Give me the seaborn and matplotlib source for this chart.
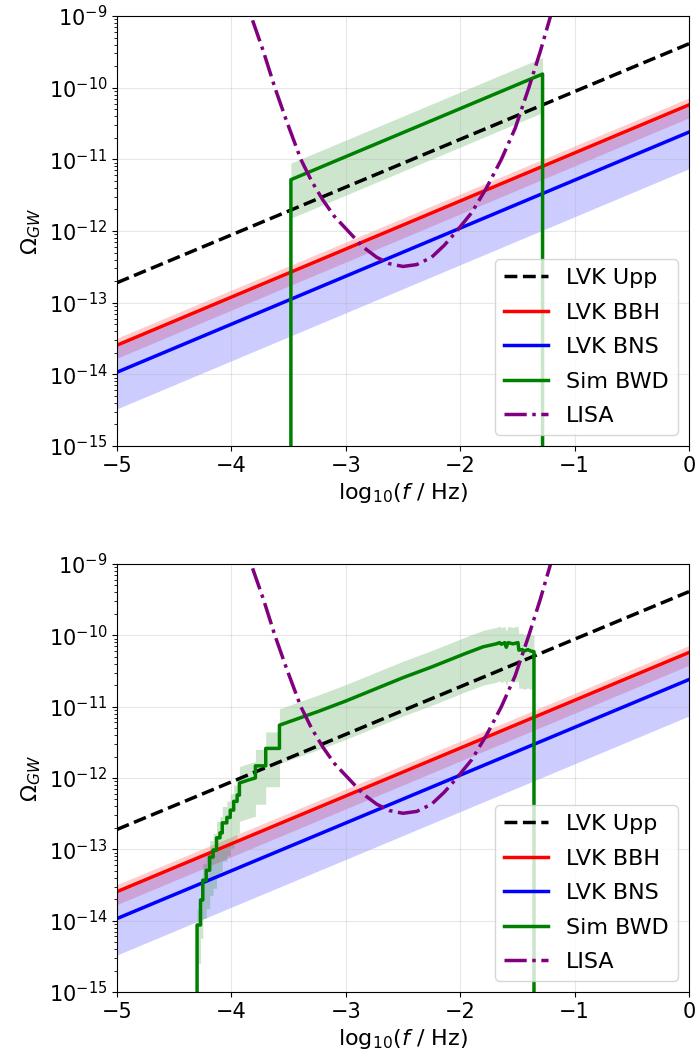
import numpy as np
import matplotlib
matplotlib.use("Agg")
import matplotlib.pyplot as plt
import seaborn as sns

# ---- LVK power-law backgrounds (Omega_GW at log10 f = -5 and 0) ----
log_f_ends = [-5.0, 0.0]
lvk_upp = [1.9e-13, 4.1e-10]
lvk_bbh = [2.55e-14, 5.75e-11]
lvk_bbh_hi = [3.2e-14, 7.2e-11]
lvk_bbh_lo = [1.68e-14, 3.8e-11]
lvk_bns = [1.07e-14, 2.4e-11]
lvk_bns_hi = [2.45e-14, 5.5e-11]
lvk_bns_lo = [3.3e-15, 7.4e-12]

# ---- LISA sensitivity curve ----
lisa_logf = [-3.815, -3.72, -3.62, -3.52, -3.393, -3.30, -3.20, -3.10, -2.98,
             -2.85, -2.73, -2.62, -2.50, -2.38, -2.25, -2.14, -2.03, -1.90,
             -1.77, -1.64, -1.52, -1.40, -1.30, -1.21, -1.15]
lisa_omega = [8.7e-10, 3.2e-10, 1.0e-10, 3.5e-11, 1.0e-11, 5.0e-12, 2.7e-12,
              1.6e-12, 1.0e-12, 6.0e-13, 4.3e-13, 3.5e-13, 3.2e-13, 3.4e-13,
              4.3e-13, 6.3e-13, 1.0e-12, 1.8e-12, 4.0e-12, 1.0e-11, 2.7e-11,
              1.0e-10, 3.2e-10, 1.0e-9, 2.0e-9]

# ---- simulated BWD background, upper panel ----
bwd_top_logf = [-3.48, -3.48, -1.28, -1.28]
bwd_top = [0.0, 5.2e-12, 1.55e-10, 0.0]

# ---- simulated BWD background, lower panel ----
bwd_bot_logf = [-4.30, -4.30, -4.27, -4.27, -4.25, -4.25, -4.22, -4.22, -4.19,
                -4.19, -4.16, -4.16, -4.13, -4.13, -4.10, -4.10, -4.08, -4.08,
                -4.04, -4.04, -4.01, -4.01, -3.98, -3.98, -3.95, -3.95, -3.93,
                -3.93, -3.84, -3.79, -3.79, -3.70, -3.70, -3.58, -3.58, -3.23,
                -3.00, -2.75, -2.50, -2.25, -1.95, -1.80, -1.684, -1.655, -1.64,
                -1.611, -1.597, -1.582, -1.54, -1.495, -1.487, -1.457, -1.445,
                -1.408, -1.38, -1.355, -1.355]
bwd_bot = [0.0, 8.7e-15, 8.7e-15, 1.95e-14, 1.95e-14, 3.7e-14, 3.7e-14, 5.1e-14,
           5.1e-14, 7.8e-14, 7.8e-14, 9.8e-14, 9.8e-14, 1.45e-13, 1.45e-13,
           1.7e-13, 1.7e-13, 2.35e-13, 2.35e-13, 2.8e-13, 2.8e-13, 3.55e-13,
           3.55e-13, 4.7e-13, 4.7e-13, 5.75e-13, 5.75e-13, 8.5e-13, 9.5e-13,
           1.0e-12, 1.48e-12, 1.48e-12, 2.6e-12, 2.6e-12, 5.5e-12, 8.7e-12,
           1.2e-11, 1.75e-11, 2.55e-11, 3.6e-11, 5.6e-11, 6.9e-11, 7.6e-11,
           7.9e-11, 7.5e-11, 7.9e-11, 6.8e-11, 7.9e-11, 7.6e-11, 7.9e-11,
           6.2e-11, 6.3e-11, 6.0e-11, 6.3e-11, 6.0e-11, 5.9e-11, 0.0]

# fractional uncertainty of the BWD background
bwd_frac_lo = 0.29
bwd_frac_hi = 1.7

plt.rcParams["font.family"] = ["DejaVu Sans"]
plt.rcParams["mathtext.fontset"] = "dejavusans"

W, H = 697, 1059
fig = plt.figure(figsize=(W / 100, H / 100), dpi=100)


def box(left, top, right, bottom):
    return [left / W, 1 - bottom / H, (right - left) / W, (bottom - top) / H]


def draw_panel(ax, bwd_logf, bwd_vals):
    lw = 2.5
    ax.fill_between(log_f_ends, lvk_bbh_lo, lvk_bbh_hi, color="red",
                    alpha=0.2, lw=0)
    ax.fill_between(log_f_ends, lvk_bns_lo, lvk_bns_hi, color="blue",
                    alpha=0.2, lw=0)
    bx = np.asarray(bwd_logf)
    bv = np.asarray(bwd_vals)
    pos = bv > 0
    ax.fill_between(bx[pos], bv[pos] * bwd_frac_lo, bv[pos] * bwd_frac_hi,
                    color="green", alpha=0.2, lw=0)

    sns.lineplot(x=log_f_ends, y=lvk_upp, ax=ax, color="black", ls="--",
                 lw=lw, label="LVK Upp", sort=False, estimator=None)
    sns.lineplot(x=log_f_ends, y=lvk_bbh, ax=ax, color="red", lw=lw,
                 label="LVK BBH", sort=False, estimator=None)
    sns.lineplot(x=log_f_ends, y=lvk_bns, ax=ax, color="blue", lw=lw,
                 label="LVK BNS", sort=False, estimator=None)
    sns.lineplot(x=bwd_logf, y=bwd_vals, ax=ax, color="green", lw=lw,
                 label="Sim BWD", sort=False, estimator=None)
    sns.lineplot(x=lisa_logf, y=lisa_omega, ax=ax, color="purple", ls="-.",
                 lw=lw, label="LISA", sort=False, estimator=None)

    ax.set_yscale("log")
    ax.set_xlim(-5, 0)
    ax.set_ylim(1e-15, 1e-9)
    ax.grid(True, which="major", alpha=0.3)
    ax.tick_params(axis="both", which="major", labelsize=15)
    ax.set_xlabel(r"log$_{10}$($f$ / Hz)", fontsize=16)
    ax.set_ylabel(r"$\Omega_{GW}$", fontsize=16)
    ax.legend(loc="lower right", fontsize=16, frameon=True, framealpha=0.8,
              labelspacing=0.65)


ax_top = fig.add_axes(box(117, 16, 689, 446))
draw_panel(ax_top, bwd_top_logf, bwd_top)

ax_bot = fig.add_axes(box(117, 564, 689, 992))
draw_panel(ax_bot, bwd_bot_logf, bwd_bot)

fig.savefig("out.png", dpi=100)
